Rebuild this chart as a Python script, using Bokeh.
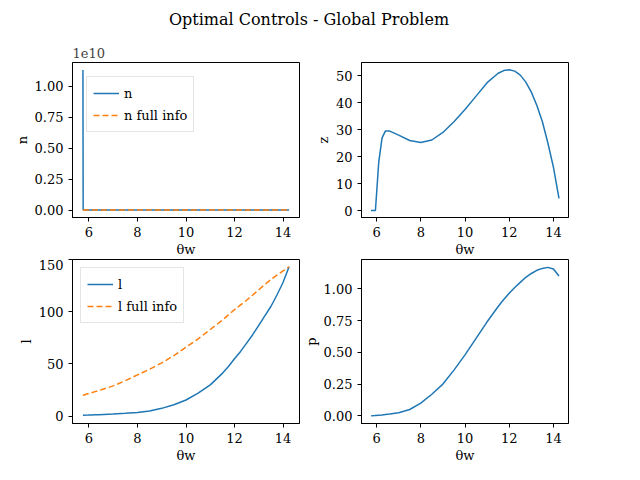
from bokeh.plotting import figure
from bokeh.layouts import column, gridplot
from bokeh.models import Div, Range1d, FixedTicker, Legend
from bokeh.embed import file_html
from bokeh.resources import INLINE

BLUE = "#1f77b4"
ORANGE = "#ff7f0e"
FONT = "DejaVu Serif"

theta = [5.75, 5.76, 5.95, 6.1, 6.25, 6.4, 6.6, 7.0, 7.5, 8.0, 8.5, 9.0, 9.5, 10.0,
         10.5, 11.0, 11.5, 11.75, 12.0, 12.25, 12.5, 12.75, 13.0, 13.25, 13.5, 13.75, 14.0, 14.25]
n_vals = [1.13, 0.0] + [0.0] * 26
n_full = [0.0] * len(theta)
z_vals = [0, 0, 0, 18, 27, 29.5, 29.5, 28, 26, 25.3, 26.2, 29, 33, 37.5,
          42.5, 47.5, 51, 52, 52.3, 51.8, 50.3, 47.7, 44, 39, 33, 25, 16, 4.5]
l_vals = [1, 1, 1.1, 1.2, 1.3, 1.4, 1.6, 2, 2.7, 3.6, 5, 7.5, 11, 15.5,
          22, 30, 41, 47.5, 55, 62, 70, 78, 87, 96, 105, 116, 128, 143]
l_full = [20, 20, 21.5, 22.5, 23.5, 24.5, 26, 29, 34, 39.5, 45, 51, 58, 66,
          74, 83, 92, 97, 102, 106.5, 111, 116, 121, 126, 131, 135, 139, 143]
p_vals = [0.0, 0.0, 0.003, 0.005, 0.007, 0.01, 0.014, 0.025, 0.05, 0.1, 0.17, 0.25, 0.36, 0.48,
          0.61, 0.74, 0.86, 0.915, 0.965, 1.01, 1.05, 1.09, 1.12, 1.145, 1.16, 1.168, 1.155, 1.1]
x_ticks = [6, 8, 10, 12, 14]


def make_fig(width, height, bl, br, bt, bb, ylabel, yr, yticks):
    p = figure(width=width, height=height, output_backend="svg", toolbar_location=None,
               min_border_left=bl, min_border_right=br, min_border_top=bt, min_border_bottom=bb,
               x_range=Range1d(5.32, 14.68), y_range=Range1d(*yr))
    p.grid.visible = False
    p.outline_line_color = "black"
    p.xaxis.axis_label = "θw"
    p.yaxis.axis_label = ylabel
    p.xaxis.ticker = FixedTicker(ticks=x_ticks)
    p.yaxis.ticker = FixedTicker(ticks=yticks)
    for ax in (p.xaxis[0], p.yaxis[0]):
        ax.minor_tick_line_color = None
        ax.major_tick_in = 0
        ax.major_tick_out = 4
        ax.axis_line_color = "black"
        ax.major_tick_line_color = "black"
        ax.major_label_text_color = "black"
        ax.axis_label_text_color = "black"
        ax.major_label_text_font = FONT
        ax.major_label_text_font_size = "13px"
        ax.axis_label_text_font = FONT
        ax.axis_label_text_font_size = "13px"
        ax.axis_label_text_font_style = "normal"
        ax.axis_label_standoff = 2
    return p


def add_legend(p, items):
    leg = Legend(items=items, location="top_left", label_text_font=FONT,
                 label_text_font_size="13px", label_text_color="black",
                 border_line_color="#cccccc", background_fill_alpha=0.85,
                 glyph_width=26, spacing=2, padding=6, margin=8)
    p.add_layout(leg)


p1 = make_fig(300, 219, 72, 1, 19, 36, "n", (-0.06, 1.19), [0, 0.25, 0.5, 0.75, 1.0])
p1.yaxis.major_label_overrides = {0: "0.00", 0.25: "0.25", 0.5: "0.50", 0.75: "0.75", 1.0: "1.00"}
p1.title.text = "1e10"
p1.title.text_font = FONT
p1.title.text_font_size = "13px"
p1.title.text_font_style = "normal"
r1 = p1.line(theta, n_vals, color=BLUE, line_width=1.5)
r2 = p1.line(theta, n_full, color=ORANGE, line_width=1.5, line_dash="6 3")
add_legend(p1, [("n", [r1]), ("n full info", [r2])])
p1.legend.margin = 14

p2 = make_fig(308, 219, 43, 40, 19, 36, "z", (-2.6, 55), [0, 10, 20, 30, 40, 50])
p2.line(theta, z_vals, color=BLUE, line_width=1.5)

p3 = make_fig(300, 206, 72, 1, 0, 40, "l", (-7, 150), [0, 50, 100, 150])
r3 = p3.line(theta, l_vals, color=BLUE, line_width=1.5)
r4 = p3.line(theta, l_full, color=ORANGE, line_width=1.5, line_dash="6 3")
add_legend(p3, [("l", [r3]), ("l full info", [r4])])

p4 = make_fig(308, 206, 43, 40, 0, 40, "p", (-0.06, 1.23), [0, 0.25, 0.5, 0.75, 1.0])
p4.yaxis.major_label_overrides = {0: "0.00", 0.25: "0.25", 0.5: "0.50", 0.75: "0.75", 1.0: "1.00"}
p4.line(theta, p_vals, color=BLUE, line_width=1.5)

title = Div(text="Optimal Controls - Global Problem", width=608, height=30,
            styles={"font-family": FONT, "font-size": "16px", "text-align": "center",
                    "width": "608px", "padding-top": "4px"})
grid = gridplot([[p1, p2], [p3, p4]], toolbar_location=None)
layout = column(title, grid)

open("out.html", "w").write(file_html(layout, INLINE))
